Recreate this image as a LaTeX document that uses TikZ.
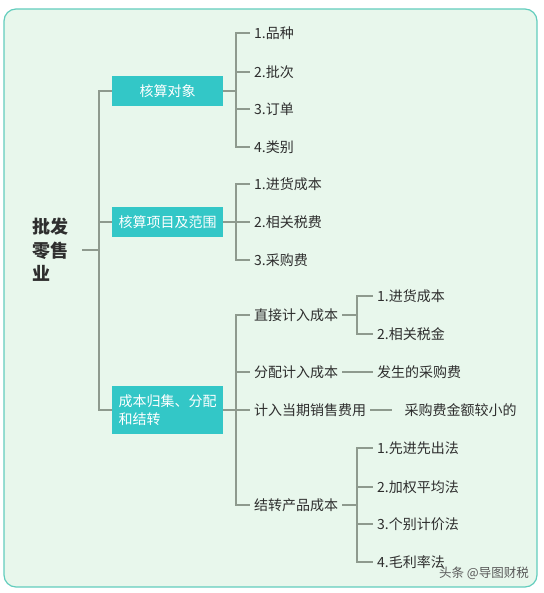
\documentclass[tikz,border=0pt]{standalone}
\usepackage{fontspec}
\newfontfamily\cjk{Noto Sans CJK SC}
\usetikzlibrary{positioning,calc}
\definecolor{framebg}{HTML}{E8F7EC}
\definecolor{frameline}{HTML}{62CDBD}
\definecolor{boxfill}{HTML}{33C7C7}
\definecolor{linkgray}{HTML}{8E9A8E}
\definecolor{txtgray}{HTML}{2E2E2E}
\tikzset{
  topic/.style={fill=boxfill,text=white,font=\cjk\fontsize{14}{18}\selectfont,
            minimum width=111pt,minimum height=30pt,inner sep=0pt,align=center},
  topicwide/.style={topic,text width=98pt,align=left,inner xsep=6pt,minimum height=48pt},
  leaf/.style={anchor=west,inner sep=4pt,text=txtgray,font=\cjk\fontsize{14}{16}\selectfont},
  branch/.style={draw=linkgray,line width=1.3pt},
}

\begin{document}
\begin{tikzpicture}[x=1pt,y=-1pt]
  \useasboundingbox (0,0) rectangle (543,593);
  \draw[frameline,fill=framebg,line width=1.2pt,rounded corners=12pt] (4,9) rectangle (537,587);
  % root and main topics
  \node[leaf,font=\cjk\bfseries\fontsize{18}{23.5}\selectfont,align=left,inner sep=2pt] (root) at (30,250) {批发\\零售\\业};
  \node[topic,anchor=west] (obj) at (112,91) {核算对象};
  \node[topic,anchor=west] (scope) at (112,222) {核算项目及范围};
  \node[topicwide,anchor=west] (cost) at (112,410) {成本归集、分配\\和结转};
  \coordinate (trunk) at (99,250);
  \draw[branch,shorten <=12pt] (root.east) -- (trunk);
  \draw[branch] (trunk) |- (obj.west);
  \draw[branch] (trunk) |- (scope.west);
  \draw[branch] (trunk) |- (cost.west);
  % 核算对象
  \coordinate (j1) at (236,91);
  \node[leaf] (o1) at (250,33) {1.品种};
  \node[leaf] (o2) at (250,72) {2.批次};
  \node[leaf] (o3) at (250,109) {3.订单};
  \node[leaf] (o4) at (250,147) {4.类别};
  \draw[branch] (obj.east) -- (j1);
  \foreach \n in {o1,o2,o3,o4} \draw[branch] (j1) |- (\n.west);
  % 核算项目及范围
  \coordinate (j2) at (236,222);
  \node[leaf] (s1) at (250,184) {1.进货成本};
  \node[leaf] (s2) at (250,222) {2.相关税费};
  \node[leaf] (s3) at (250,260) {3.采购费};
  \draw[branch] (scope.east) -- (j2);
  \foreach \n in {s1,s2,s3} \draw[branch] (j2) |- (\n.west);
  % 成本归集、分配和结转
  \coordinate (j3) at (236,410);
  \node[leaf] (d1) at (250,315) {直接计入成本};
  \node[leaf] (d2) at (250,372) {分配计入成本};
  \node[leaf] (d3) at (250,410) {计入当期销售费用};
  \node[leaf] (d4) at (250,505) {结转产品成本};
  \draw[branch] (cost.east) -- (j3);
  \foreach \n in {d1,d2,d3,d4} \draw[branch] (j3) |- (\n.west);
  % second level
  \coordinate (k1) at (357,315);
  \node[leaf] (e11) at (373,296) {1.进货成本};
  \node[leaf] (e12) at (373,334) {2.相关税金};
  \draw[branch] (d1.east) -- (k1);
  \foreach \n in {e11,e12} \draw[branch] (k1) |- (\n.west);
  \node[leaf] (e21) at (373,372) {发生的采购费};
  \draw[branch] (d2.east) -- (e21.west);
  \node[leaf,right=30pt of d3.east,anchor=west] (e31) {采购费金额较小的};
  \draw[branch,shorten >=8pt] (d3.east) -- (e31.west);
  \coordinate (k4) at (357,505);
  \node[leaf] (e41) at (373,448) {1.先进先出法};
  \node[leaf] (e42) at (373,487) {2.加权平均法};
  \node[leaf] (e43) at (373,524) {3.个别计价法};
  \node[leaf] (e44) at (373,562) {4.毛利率法};
  \draw[branch] (d4.east) -- (k4);
  \foreach \n in {e41,e42,e43,e44} \draw[branch] (k4) |- (\n.west);
  % watermark
  \node[leaf,anchor=east,text=black!65,font=\cjk\fontsize{12.5}{15}\selectfont] (mark) at (533,573) {头条 @导图财税};
\end{tikzpicture}
\end{document}
